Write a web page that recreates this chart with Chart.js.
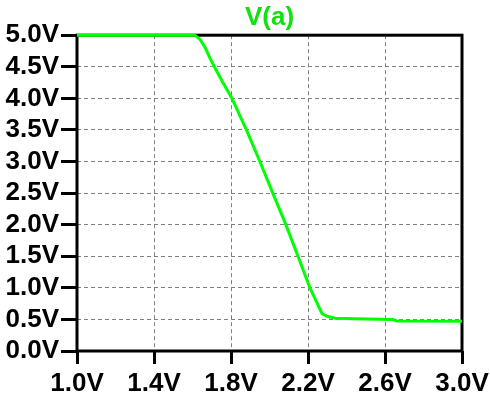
<!DOCTYPE html>
<html>
<head>
<meta charset="utf-8">
<title>V(a)</title>
<script src="https://cdn.jsdelivr.net/npm/chart.js@4/dist/chart.umd.min.js"></script>
<style>
  html, body { margin: 0; padding: 0; background: #fff; }
  canvas { display: block; }
</style>
</head>
<body>
<canvas id="plot" width="490" height="395"></canvas>
<script>
// sweep voltage (x) and node voltage V(a) (y)
const sweepV = [1.0, 1.613, 1.64, 1.665, 1.69, 1.717, 1.76, 1.805, 1.880, 1.950, 2.017, 2.085, 2.148, 2.21, 2.273, 2.30, 2.34, 2.44, 2.64, 2.66, 3.0]
const nodeV = [5.0, 5.0, 4.93, 4.81, 4.64, 4.48, 4.24, 4.0, 3.5, 3.0, 2.5, 2.0, 1.5, 1.0, 0.59, 0.55, 0.52, 0.51, 0.50, 0.475, 0.47]

const traceName = "V(a)"
const traceColor = "#00ff00"

const labelFont = { family: "'Liberation Sans', Arial, sans-serif", size: 26, weight: "bold" }

function voltLabel(v) {
  return Number(v).toFixed(1) + "V"
}

// black frame around the plot area, drawn under the trace
const frame = {
  id: "frame",
  beforeDatasetsDraw(chart) {
    const { ctx, chartArea } = chart
    ctx.save()
    ctx.strokeStyle = "#000"
    ctx.lineWidth = 3
    ctx.strokeRect(chartArea.left, chartArea.top, chartArea.right - chartArea.left, chartArea.bottom - chartArea.top)
    ctx.restore()
  },
}

const points = sweepV.map((x, i) => ({ x: x, y: nodeV[i] }))

new Chart(document.getElementById("plot"), {
  type: "line",
  data: {
    datasets: [
      {
        data: points,
        borderColor: traceColor,
        borderWidth: 3,
        pointRadius: 0,
        tension: 0,
        clip: 4,
      },
    ],
  },
  options: {
    responsive: false,
    animation: false,
    layout: { padding: { right: 28, left: 0, bottom: 0, top: 0 } },
    plugins: {
      legend: { display: false },
      tooltip: { enabled: false },
      title: {
        display: true,
        text: traceName,
        color: "#11e011",
        font: labelFont,
        fullSize: false,
        padding: { top: 2, bottom: 2 },
      },
    },
    scales: {
      x: {
        type: "linear",
        min: 1.0,
        max: 3.0,
        afterFit(scale) {
          scale.height = 44
          scale.paddingLeft = 0
          scale.paddingRight = 0
        },
        ticks: {
          stepSize: 0.4,
          color: "#000",
          font: labelFont,
          padding: 4,
          maxRotation: 0,
          autoSkip: false,
          callback: voltLabel,
        },
        grid: {
          color: "#808080",
          lineWidth: 1,
          tickColor: "#000",
          tickWidth: 3,
          tickLength: 13,
          tickBorderDash: [],
        },
        border: { display: false, dash: [4, 3] },
      },
      y: {
        type: "linear",
        min: 0,
        max: 5,
        afterFit(scale) { scale.width = 77 },
        ticks: {
          stepSize: 0.5,
          color: "#000",
          font: labelFont,
          padding: 2,
          autoSkip: false,
          callback: voltLabel,
        },
        grid: {
          color: "#808080",
          lineWidth: 1,
          tickColor: "#000",
          tickWidth: 3,
          tickLength: 16,
          tickBorderDash: [],
        },
        border: { display: false, dash: [4, 3] },
      },
    },
  },
  plugins: [frame],
})
</script>
</body>
</html>
